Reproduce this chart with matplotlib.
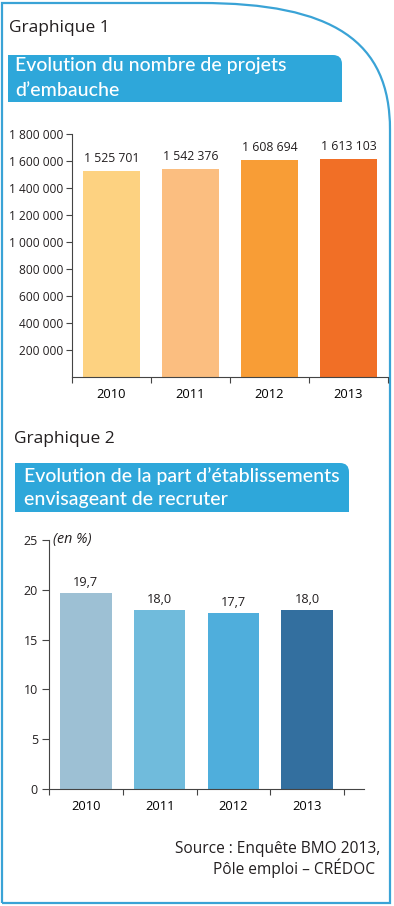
import matplotlib
matplotlib.use("Agg")
import matplotlib.pyplot as plt
from matplotlib.path import Path
from matplotlib.patches import PathPatch
from matplotlib.ticker import FuncFormatter

years = ["2010", "2011", "2012", "2013"]
projets = [1525701, 1542376, 1608694, 1613103]
part_etab = [19.7, 18.0, 17.7, 18.0]

colors_1 = ["#FDD281", "#FBBE80", "#F89D36", "#F16F26"]
colors_2 = ["#9DC0D4", "#70BBDC", "#4FAEDC", "#336F9F"]

blue = "#2EA7DA"
text_col = "#231F20"
axis_col = "#444444"

plt.rcParams["font.family"] = ["Open Sans", "DejaVu Sans"]

W, H = 394, 906
fig = plt.figure(figsize=(W / 100, H / 100), dpi=100)

# background layer in pixel coordinates
bg = fig.add_axes([0, 0, 1, 1])
bg.set_xlim(0, W)
bg.set_ylim(H, 0)
bg.axis("off")

# outer frame with big rounded top-right corner
k = 0.7
frame = Path(
    [(2, 903), (2, 3), (200, 3),
     (200 + k * 190, 3), (390, 130 - k * 127), (390, 130),
     (390, 903), (2, 903)],
    [Path.MOVETO, Path.LINETO, Path.LINETO,
     Path.CURVE4, Path.CURVE4, Path.CURVE4,
     Path.LINETO, Path.LINETO])
bg.add_patch(PathPatch(frame, fill=False, edgecolor="#3AA3D6", lw=1.6))


def header_box(x0, y0, x1, y1, r=9):
    p = Path([(x0, y0), (x1 - r, y0), (x1, y0), (x1, y0 + r),
              (x1, y1), (x0, y1), (x0, y0)],
             [Path.MOVETO, Path.LINETO, Path.CURVE3, Path.CURVE3,
              Path.LINETO, Path.LINETO, Path.CLOSEPOLY])
    bg.add_patch(PathPatch(p, facecolor=blue, edgecolor="none"))


hdr = dict(fontsize=14, color="white", va="center", fontweight="medium",
           family=["Lato", "DejaVu Sans"])

bg.text(9, 28, "Graphique 1", fontsize=12.5, color=text_col, va="center")
header_box(8, 55, 342, 102)
bg.text(15, 66, "Evolution du nombre de projets", **hdr)
bg.text(15, 90, "d\u2019embauche", **hdr)

bg.text(14, 439, "Graphique 2", fontsize=12.5, color=text_col, va="center")
header_box(15, 463, 349, 512)
bg.text(24, 476, "Evolution de la part d\u2019\u00e9tablissements", **hdr)
bg.text(24, 500, "envisageant de recruter", **hdr)

bg.text(380, 853, "Source : Enqu\u00eate BMO 2013,", fontsize=11.2,
        color=text_col, ha="right", va="baseline")
bg.text(375, 874, "P\u00f4le emploi \u2013 CR\u00c9DOC", fontsize=11.2,
        color=text_col, ha="right", va="baseline")


def style_axes(ax):
    for s in ["top", "right"]:
        ax.spines[s].set_visible(False)
    for s in ["left", "bottom"]:
        ax.spines[s].set_color(axis_col)
        ax.spines[s].set_linewidth(0.8)
    ax.set_facecolor("none")
    ax.tick_params(axis="both", colors=axis_col, labelcolor=text_col,
                   width=0.8, length=4)


# Graphique 1
ax1 = fig.add_axes([72 / W, (H - 377) / H, 316 / W, 243 / H])
style_axes(ax1)
x = range(len(years))
ax1.bar(x, projets, width=0.71, color=colors_1)
ax1.set_xlim(-0.5, 3.5)
ax1.set_ylim(0, 1800000)
ax1.set_yticks(range(200000, 1800001, 200000))
ax1.yaxis.set_major_formatter(FuncFormatter(lambda v, p: f"{int(v):,}".replace(",", " ")))
ax1.tick_params(axis="y", labelsize=8.6, pad=2)
ax1.set_xticks([-0.5, 0.5, 1.5, 2.5, 3.5])
ax1.set_xticklabels([])
ax1.set_xticks(list(x), minor=True)
ax1.set_xticklabels(years, minor=True)
ax1.tick_params(axis="x", which="minor", length=0, labelsize=9.3, pad=8)
for i, v in enumerate(projets):
    ax1.annotate(f"{v:,}".replace(",", " "), (i, v), xytext=(0, 6.5),
                 textcoords="offset points", ha="center", va="baseline",
                 fontsize=8.8, color=text_col)

# Graphique 2
ax2 = fig.add_axes([49 / W, (H - 789) / H, 315 / W, 249 / H])
style_axes(ax2)
ax2.bar(x, part_etab, width=0.70, color=colors_2)
ax2.set_xlim(-0.5, 3.77)
ax2.set_ylim(0, 25)
ax2.set_yticks([0, 5, 10, 15, 20, 25])
ax2.tick_params(axis="y", labelsize=9, pad=3, length=5)
ax2.set_xticks([-0.5, 0.5, 1.5, 2.5, 3.5])
ax2.set_xticklabels([])
ax2.set_xticks(list(x), minor=True)
ax2.set_xticklabels(years, minor=True)
ax2.tick_params(axis="x", which="minor", length=0, labelsize=9.3, pad=8)
for i, v in enumerate(part_etab):
    ax2.annotate(f"{v:.1f}".replace(".", ","), (i, v), xytext=(0, 5),
                 textcoords="offset points", ha="center", va="baseline",
                 fontsize=9.2, color=text_col)
ax2.text(0.012, 25, "(en %)", fontsize=10.3, style="italic", color=text_col,
         transform=ax2.get_yaxis_transform(), va="center")

fig.savefig("out.png", dpi=100)
